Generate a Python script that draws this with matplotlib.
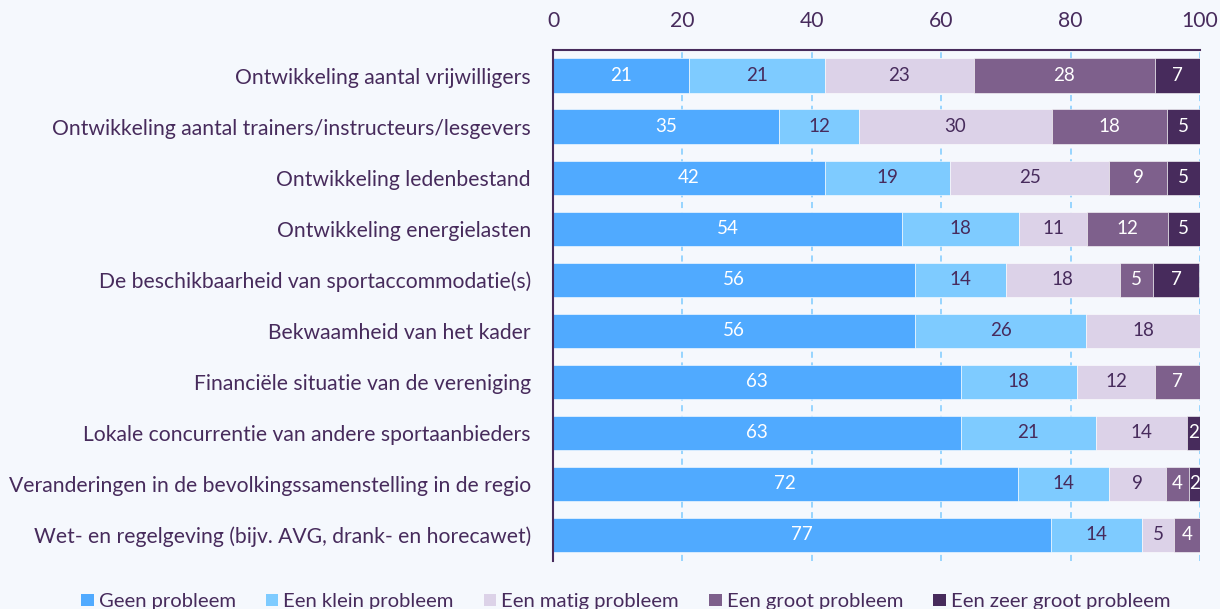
import matplotlib
matplotlib.use("Agg")
import matplotlib.pyplot as plt
from matplotlib.patches import Patch
import numpy as np

categories = [
    "Ontwikkeling aantal vrijwilligers",
    "Ontwikkeling aantal trainers/instructeurs/lesgevers",
    "Ontwikkeling ledenbestand",
    "Ontwikkeling energielasten",
    "De beschikbaarheid van sportaccommodatie(s)",
    "Bekwaamheid van het kader",
    "Financiële situatie van de vereniging",
    "Lokale concurrentie van andere sportaanbieders",
    "Veranderingen in de bevolkingssamenstelling in de regio",
    "Wet- en regelgeving (bijv. AVG, drank- en horecawet)",
]
series_names = ["Geen probleem", "Een klein probleem", "Een matig probleem",
                "Een groot probleem", "Een zeer groot probleem"]
geen = [21, 35, 42, 54, 56, 56, 63, 63, 71.8, 77]
klein = [21, 12.3, 19.4, 18, 14, 26.4, 18, 21, 14.1, 14]
matig = [23, 29.8, 24.6, 10.6, 17.6, 17.6, 12, 14, 8.8, 5]
groot = [28, 17.8, 8.9, 12.4, 5.2, 0, 7, 0, 3.6, 4]
zeer_groot = [7, 5.1, 5.1, 5, 7, 0, 0, 2, 1.7, 0]
xticks = [0, 20, 40, 60, 80, 100]

colors = ["#50aaff", "#7ecbff", "#dcd2e8", "#7e608c", "#472b5c"]
label_colors = ["white", "#472b5c", "#472b5c", "white", "white"]
text_color = "#472b5c"
bg = "#f5f8fd"

plt.rcParams['font.family'] = ['Lato', 'DejaVu Sans']

fig = plt.figure(figsize=(12.2, 6.09), dpi=100, facecolor=bg)
ax = fig.add_axes([0.4533, 0.0796, 0.5303, 0.8383], facecolor=bg)

data = [geen, klein, matig, groot, zeer_groot]
y = np.arange(len(categories))
left = np.zeros(len(categories))
for vals, c, lc, name in zip(data, colors, label_colors, series_names):
    vals = np.array(vals, dtype=float)
    bars = ax.barh(y, vals, left=left, height=0.67, color=c, edgecolor="white",
                   linewidth=0.4, label=name, zorder=2)
    for b, v in zip(bars, vals):
        if v > 0:
            ax.text(b.get_x() + b.get_width() / 2, b.get_y() + b.get_height() / 2,
                    f"{round(v):d}", ha="center", va="center", color=lc,
                    fontsize=13.5, zorder=3)
    left += vals

ax.set_ylim(len(categories) - 0.5, -0.5)
ax.set_xlim(0, 100)
ax.set_yticks(y)
ax.set_yticklabels(categories, fontsize=15.2, color=text_color)
ax.set_xticks(xticks)
ax.set_xticklabels([str(t) for t in xticks], fontsize=15.2, color=text_color)
ax.xaxis.tick_top()
ax.tick_params(axis="both", length=0)
ax.tick_params(axis="x", pad=14)
ax.tick_params(axis="y", pad=16)
ax.grid(axis="x", color="#7ecbff", linestyle=(0, (4, 3)), linewidth=1.1, zorder=0)
ax.set_axisbelow(True)
for s in ["right", "bottom"]:
    ax.spines[s].set_visible(False)
for s in ["top", "left"]:
    ax.spines[s].set_color(text_color)
    ax.spines[s].set_linewidth(1.5)

handles = [Patch(facecolor=c, edgecolor="none") for c in colors]
leg = fig.legend(handles, series_names, loc="center", bbox_to_anchor=(0.513, 0.012),
                 ncol=5, frameon=False, fontsize=14.6, handlelength=0.6, handleheight=0.6,
                 handletextpad=0.25, columnspacing=1.5)
for t in leg.get_texts():
    t.set_color(text_color)

fig.savefig("out.png", dpi=100, facecolor=bg)
